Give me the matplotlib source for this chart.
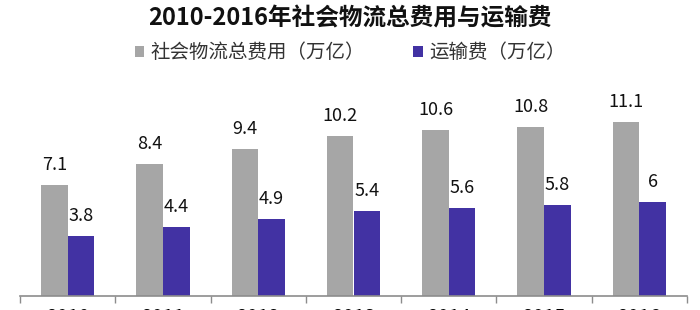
import matplotlib.pyplot as plt
import numpy as np

plt.rcParams['font.family'] = ['Noto Sans CJK SC', 'DejaVu Sans']

years = ['2010', '2011', '2012', '2013', '2014', '2015', '2016']
total_cost = [7.1, 8.4, 9.4, 10.2, 10.6, 10.8, 11.1]
transport_cost = [3.8, 4.4, 4.9, 5.4, 5.6, 5.8, 6]
series_names = ['社会物流总费用（万亿）', '运输费（万亿）']

GRAY = '#a6a6a6'
BLUE = '#4232a3'

fig = plt.figure(figsize=(7, 3.1), dpi=100)
ax = fig.add_axes([20 / 700, 14 / 310, 667 / 700, 188 / 310])

x = np.arange(len(years))
w = 0.28
b1 = ax.bar(x - w / 2, total_cost, w, color=GRAY, label=series_names[0])
b2 = ax.bar(x + w / 2, transport_cost, w, color=BLUE, label=series_names[1])

for bars, vals in [(b1, total_cost), (b2, transport_cost)]:
    for r, v in zip(bars, vals):
        ax.annotate(f'{v:g}', (r.get_x() + r.get_width() / 2, v),
                    xytext=(0, 8), textcoords='offset points',
                    ha='center', va='bottom', fontsize=13, color='#111111')

ax.set_xlim(-0.5, len(years) - 0.5)
ax.set_ylim(0, 12)
for s in ['left', 'right', 'top']:
    ax.spines[s].set_visible(False)
ax.spines['bottom'].set_color('#8c8c8c')
ax.spines['bottom'].set_linewidth(1.2)
ax.set_yticks([])
ax.set_xticks(x)
# the year labels run past the bottom edge, as in the source picture
ax.set_xticklabels(years, fontsize=14)
ax.tick_params(axis='x', which='major', length=0, pad=8)
ax.set_xticks(np.arange(-0.5, len(years)), minor=True)
ax.tick_params(axis='x', which='minor', length=5, color='#8c8c8c', width=1)

fig.text(0.5, 0.94, '2010-2016年社会物流总费用与运输费', ha='center', va='center',
         fontsize=17, fontweight='bold', color='#111111')
fig.legend(handles=[b1, b2], loc='center', bbox_to_anchor=(0.5, 0.83), ncol=2,
           frameon=False, fontsize=14, handlelength=0.5, handleheight=0.5,
           handletextpad=0.3, columnspacing=2.5, labelcolor='#333333')

fig.savefig('out.png', dpi=100)
